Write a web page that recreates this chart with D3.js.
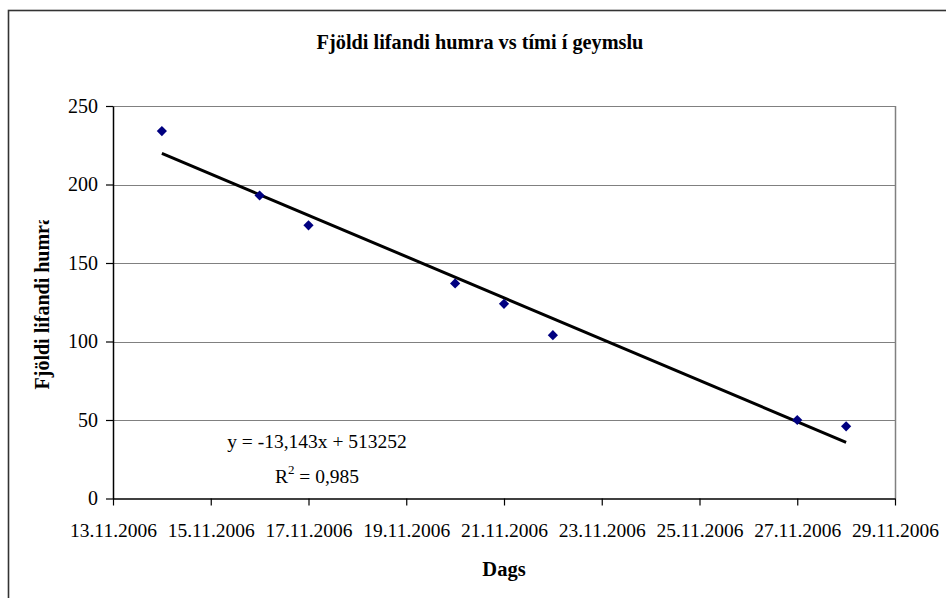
<!DOCTYPE html>
<html>
<head>
<meta charset="utf-8">
<script src="https://cdn.jsdelivr.net/npm/d3@7"></script>
<style>
  html, body { margin: 0; padding: 0; background: #fff; }
  svg text { font-family: "Liberation Serif", "Times New Roman", Tinos, "DejaVu Serif", serif !important; }
</style>
</head>
<body>
<svg id="chart" width="946" height="598"></svg>
<script>
// ---- data ----
const dates = ["14.11.2006", "16.11.2006", "17.11.2006", "20.11.2006", "21.11.2006", "22.11.2006", "27.11.2006", "28.11.2006"];
const counts = [234, 193, 174, 137, 124, 104, 50, 46];
const xTickLabels = ["13.11.2006", "15.11.2006", "17.11.2006", "19.11.2006", "21.11.2006", "23.11.2006", "25.11.2006", "27.11.2006", "29.11.2006"];
const yTicks = [0, 50, 100, 150, 200, 250];
const titleText = "Fjöldi lifandi humra vs tími í geymslu";
const xTitle = "Dags";
const yTitle = "Fjöldi lifandi humra";
const equationText = "y = -13,143x + 513252";
const r2Value = "0,985";

// ---- layout ----
const W = 946, H = 598;
const plot = { left: 113, right: 895, top: 106, bottom: 498.5 };

const parse = d3.utcParse("%d.%m.%Y");
const fmt = d3.utcFormat("%d.%m.%Y");
const pts = dates.map((d, i) => ({ date: parse(d), value: counts[i] }));

const x = d3.scaleUtc()
  .domain([parse(xTickLabels[0]), parse(xTickLabels[xTickLabels.length - 1])])
  .range([plot.left, plot.right]);
const y = d3.scaleLinear().domain([0, 250]).range([plot.bottom, plot.top]);

const svg = d3.select("#chart");

// outer chart border (extends past right/bottom edges)
svg.append("rect")
  .attr("x", 8.5).attr("y", 10.5)
  .attr("width", 960).attr("height", 620)
  .attr("fill", "#fff").attr("stroke", "#333").attr("stroke-width", 1.6);

// gridlines
svg.append("g").selectAll("line")
  .data(yTicks.filter(v => v > 0))
  .join("line")
  .attr("x1", plot.left).attr("x2", plot.right)
  .attr("y1", d => Math.round(y(d)) + 0.5).attr("y2", d => Math.round(y(d)) + 0.5)
  .attr("stroke", "#808080").attr("stroke-width", 1.2);

// right border of plot area
svg.append("line")
  .attr("x1", plot.right + 0.5).attr("x2", plot.right + 0.5)
  .attr("y1", y(250)).attr("y2", plot.bottom)
  .attr("stroke", "#808080").attr("stroke-width", 1.5);

// axes
const xAxis = d3.axisBottom(x)
  .tickValues(xTickLabels.map(parse))
  .tickFormat(fmt)
  .tickSizeInner(7).tickSizeOuter(0).tickPadding(18);
const gx = svg.append("g")
  .attr("transform", `translate(0,${Math.round(plot.bottom) - 0.5})`)
  .call(xAxis);
gx.select(".domain").attr("stroke", "#000").attr("stroke-width", 1.5);
gx.selectAll(".tick line").attr("stroke", "#000").attr("stroke-width", 1.2);
gx.selectAll(".tick text").attr("font-size", 19.5).attr("fill", "#000");

const yAxis = d3.axisLeft(y)
  .tickValues(yTicks)
  .tickSizeInner(7).tickSizeOuter(0).tickPadding(8);
const gy = svg.append("g")
  .attr("transform", `translate(${plot.left},0)`)
  .call(yAxis);
gy.select(".domain").attr("stroke", "#000").attr("stroke-width", 1.5);
gy.selectAll(".tick line").attr("stroke", "#000").attr("stroke-width", 1.2);
gy.selectAll(".tick text").attr("font-size", 20).attr("fill", "#000");

// linear trend line (least squares on the data)
const n = pts.length;
const xs = pts.map(p => +p.date / 864e5), ys = pts.map(p => p.value);
const mx = d3.mean(xs), my = d3.mean(ys);
const sxy = d3.sum(xs.map((v, i) => (v - mx) * (ys[i] - my)));
const sxx = d3.sum(xs.map(v => (v - mx) ** 2));
const slope = sxy / sxx, icpt = my - slope * mx;
const ends = [pts[0].date, pts[n - 1].date];
svg.append("path")
  .datum(ends)
  .attr("d", d3.line().x(d => x(d)).y(d => y(icpt + slope * (+d / 864e5))))
  .attr("stroke", "#000").attr("stroke-width", 3).attr("fill", "none");

// markers
svg.append("g").selectAll("path")
  .data(pts)
  .join("path")
  .attr("d", d3.symbol(d3.symbolSquare, 52))
  .attr("transform", d => `translate(${x(d.date)},${y(d.value)}) rotate(45)`)
  .attr("fill", "#000080");

// equation labels
svg.append("text")
  .attr("x", 317).attr("y", 448)
  .attr("text-anchor", "middle").attr("font-size", 19.5)
  .text(equationText);
const r2 = svg.append("text")
  .attr("x", 317).attr("y", 483)
  .attr("text-anchor", "middle").attr("font-size", 19.5);
r2.append("tspan").text("R");
r2.append("tspan").attr("dy", -9).attr("font-size", 13).text("2");
r2.append("tspan").attr("dy", 9).text(" = " + r2Value);

// title
svg.append("text")
  .attr("x", 480).attr("y", 49)
  .attr("text-anchor", "middle").attr("font-weight", "bold").attr("font-size", 20.3)
  .text(titleText);

// x title
svg.append("text")
  .attr("x", 504).attr("y", 576)
  .attr("text-anchor", "middle").attr("font-weight", "bold").attr("font-size", 20.5)
  .text(xTitle);

// y title (clipped at top like the original)
svg.append("clipPath").attr("id", "yclip")
  .append("rect").attr("x", 0).attr("y", 220).attr("width", 100).attr("height", 400);
svg.append("g")
  .attr("clip-path", "url(#yclip)")
  .append("text")
  .attr("transform", `translate(49,${(plot.top + plot.bottom) / 2}) rotate(-90)`)
  .attr("text-anchor", "middle").attr("font-weight", "bold").attr("font-size", 20)
  .text(yTitle);
</script>
</body>
</html>
